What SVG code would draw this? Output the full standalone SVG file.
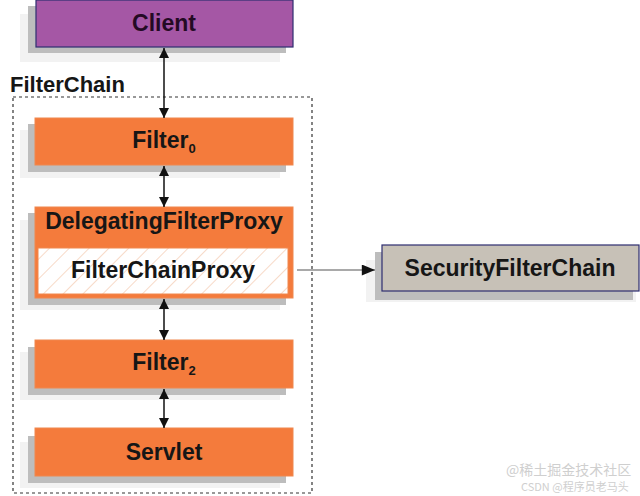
<svg xmlns="http://www.w3.org/2000/svg" width="640" height="496" viewBox="0 0 640 496">
<defs>
<style>
.lbl{font-family:"Liberation Sans",Arial,sans-serif;font-weight:bold;font-size:23px;fill:#161616;text-anchor:middle}
.orange{fill:#f47b3c;stroke:#f0884e;stroke-width:1}
.sh1{fill:#f2f2f2}
.sh2{fill:#bdbdbd}
.conn{stroke:#111;stroke-width:1.5;fill:none}
.wm{font-family:"Noto Sans CJK SC","Liberation Sans",sans-serif;fill:#cfcfcf}
</style>
<marker id="ah" viewBox="0 0 10 10" refX="10" refY="5" markerWidth="10" markerHeight="10" markerUnits="userSpaceOnUse" orient="auto-start-reverse">
<path d="M0,0 L10,5 L0,10 z" fill="#111"/>
</marker>
<marker id="ah2" viewBox="0 0 12 10" refX="12" refY="5" markerWidth="14" markerHeight="11" markerUnits="userSpaceOnUse" orient="auto">
<path d="M0,0 L12,5 L0,10 z" fill="#111"/>
</marker>
<pattern id="hatch" width="14" height="14" patternUnits="userSpaceOnUse" patternTransform="rotate(45)">
<rect width="14" height="14" fill="#fff"/>
<line x1="0" y1="0" x2="0" y2="14" stroke="#f3c2a4" stroke-width="1.2"/>
</pattern>
</defs>
<rect width="640" height="496" fill="#fff"/>

<g id="filterchain">
<rect x="13" y="97" width="299" height="396" fill="none" stroke="#333" stroke-width="1.2" stroke-dasharray="3,3"/>
<text x="10" y="92" style="font-family:'Liberation Sans',Arial,sans-serif;font-size:22px;font-weight:bold;fill:#161616">FilterChain</text>
</g>

<g id="client">
<rect class="sh1" x="20" y="14" width="260" height="48"/>
<rect class="sh2" x="28" y="6" width="258" height="47"/>
<rect x="36" y="0" width="257" height="47" fill="#a557a5" stroke="#2e2e70" stroke-width="1.2"/>
<text class="lbl" x="164" y="31" style="fill:#240a24">Client</text>
</g>

<g id="filter0">
<rect class="sh1" x="20" y="130" width="260" height="48"/>
<rect class="sh2" x="28" y="124" width="258" height="48"/>
<rect class="orange" x="35" y="118" width="258" height="47"/>
<text class="lbl" x="164" y="148">Filter<tspan font-size="13" dy="5">0</tspan></text>
</g>

<g id="delegatingfilterproxy">
<rect class="sh1" x="20" y="220" width="260" height="90"/>
<rect class="sh2" x="28" y="213" width="258" height="92"/>
<rect class="orange" x="35" y="207" width="258" height="91"/>
<text class="lbl" x="164" y="229">DelegatingFilterProxy</text>
</g>

<g id="filterchainproxy">
<rect x="38" y="248" width="250" height="46" fill="url(#hatch)" stroke="#f0884e" stroke-width="1"/>
<text class="lbl" x="163" y="278">FilterChainProxy</text>
</g>

<g id="securityfilterchain">
<rect class="sh1" x="366" y="260" width="270" height="42"/>
<rect class="sh2" x="375" y="252" width="258" height="48"/>
<rect x="382" y="245" width="257" height="46" fill="#c7c1b7" stroke="#2e2e70" stroke-width="1.2"/>
<text class="lbl" x="510" y="276">SecurityFilterChain</text>
</g>

<g id="filter2">
<rect class="sh1" x="20" y="352" width="260" height="48"/>
<rect class="sh2" x="28" y="347" width="258" height="48"/>
<rect class="orange" x="35" y="340" width="258" height="48"/>
<text class="lbl" x="164" y="370">Filter<tspan font-size="13" dy="5">2</tspan></text>
</g>

<g id="servlet">
<rect class="sh1" x="20" y="442" width="260" height="46"/>
<rect class="sh2" x="28" y="436" width="258" height="47"/>
<rect class="orange" x="35" y="428" width="258" height="48"/>
<text class="lbl" x="164" y="460">Servlet</text>
</g>

<g id="connectors">
<line class="conn" x1="164" y1="48" x2="164" y2="118" marker-start="url(#ah)" marker-end="url(#ah)"/>
<line class="conn" x1="164" y1="166" x2="164" y2="207" marker-start="url(#ah)" marker-end="url(#ah)"/>
<line class="conn" x1="164" y1="299" x2="164" y2="340" marker-start="url(#ah)" marker-end="url(#ah)"/>
<line class="conn" x1="164" y1="389" x2="164" y2="428" marker-start="url(#ah)" marker-end="url(#ah)"/>
<line x1="297" y1="270" x2="375" y2="270" stroke="#555" stroke-width="1.2" marker-end="url(#ah2)"/>
</g>

<g id="watermark">
<text class="wm" x="506" y="475" font-size="14">@稀土掘金技术社区</text>
<text class="wm" x="521" y="491" font-size="11">CSDN @程序员老马头</text>
</g>
</svg>
